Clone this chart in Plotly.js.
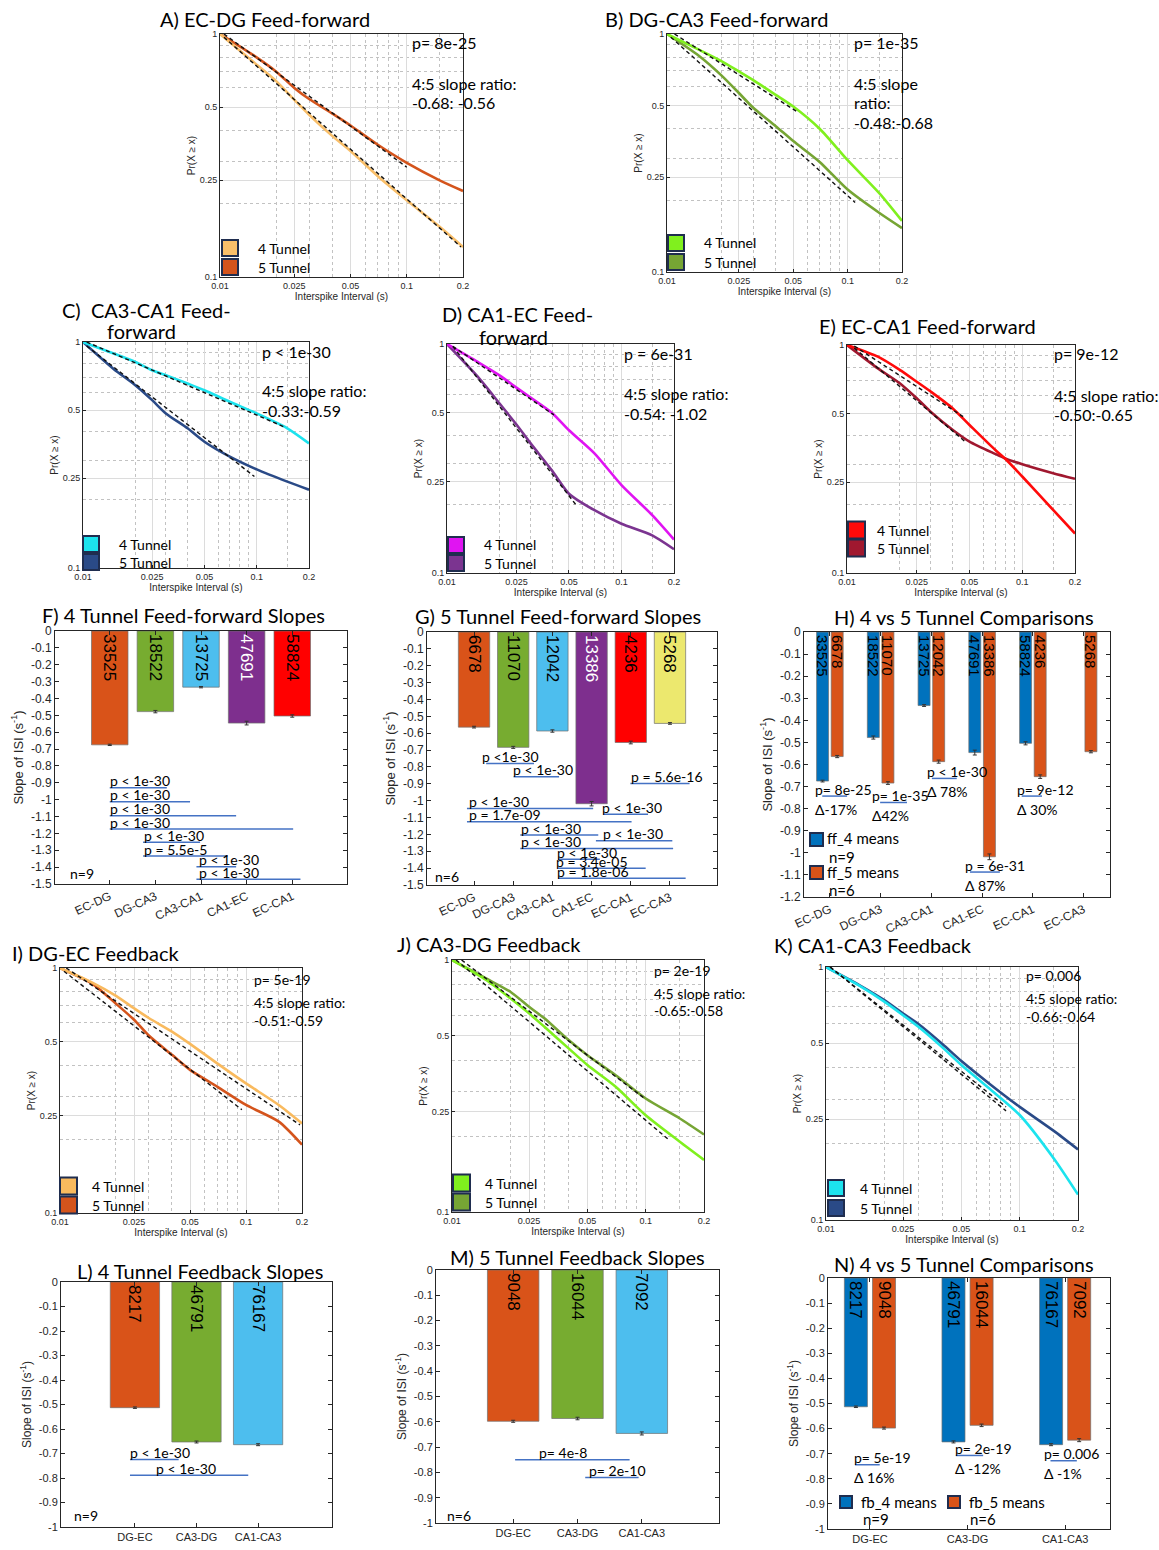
<!DOCTYPE html>
<html><head><meta charset="utf-8">
<script src="https://cdn.plot.ly/plotly-3.0.1.min.js"></script>
<style>body{margin:0;background:#fff}#chart{width:1159px;height:1550px}</style>
</head><body><div id="chart"></div>
<script>
const W = 1159, H = 1550;
const X = p => p / W, Y = p => 1 - p / H;
const TF = 'Lato, "Open Sans", sans-serif';
const AF = '"Liberation Sans", Arial, sans-serif';

// ---------------- CDF data (complementary CDF, log-log) ----------------
const isiX  = [0.01, 0.015, 0.02, 0.025, 0.03, 0.04, 0.05, 0.07, 0.1, 0.15, 0.2];
const isiXE = [0.01, 0.015, 0.02, 0.025, 0.03, 0.04, 0.05, 0.07, 0.08, 0.1, 0.15, 0.2];

const cdfA4 = [1, 0.77, 0.64, 0.536, 0.465, 0.38, 0.33, 0.26, 0.207, 0.161, 0.133];
const cdfA5 = [1, 0.82, 0.70, 0.60, 0.54, 0.47, 0.42, 0.35, 0.295, 0.25, 0.226];
const cdfB4 = [1, 0.86, 0.77, 0.696, 0.64, 0.555, 0.496, 0.40, 0.295, 0.214, 0.164];
const cdfB5 = [1, 0.81, 0.67, 0.565, 0.49, 0.41, 0.355, 0.29, 0.222, 0.177, 0.153];
const cdfC4 = [1, 0.89, 0.816, 0.75, 0.713, 0.655, 0.612, 0.544, 0.483, 0.415, 0.356];
const cdfC5 = [1, 0.76, 0.644, 0.553, 0.483, 0.415, 0.362, 0.311, 0.273, 0.241, 0.222];
const cdfD4 = [1, 0.835, 0.73, 0.645, 0.585, 0.50, 0.42, 0.333, 0.242, 0.179, 0.14];
const cdfD5 = [1, 0.72, 0.55, 0.445, 0.37, 0.28, 0.222, 0.188, 0.164, 0.146, 0.127];
const cdfE4 = [1, 0.889, 0.778, 0.69, 0.625, 0.528, 0.446, 0.347, 0.317, 0.265, 0.189, 0.149];
const cdfE5 = [1, 0.79, 0.68, 0.584, 0.51, 0.425, 0.377, 0.333, 0.318, 0.300, 0.274, 0.259];
const cdfI4 = [1, 0.87, 0.77, 0.685, 0.625, 0.55, 0.49, 0.408, 0.338, 0.276, 0.232];
const cdfI5 = [1, 0.86, 0.715, 0.615, 0.53, 0.442, 0.384, 0.328, 0.276, 0.236, 0.19];
const cdfJ4 = [1, 0.833, 0.705, 0.614, 0.543, 0.446, 0.383, 0.314, 0.242, 0.19, 0.161];
const cdfJ5 = [1, 0.845, 0.748, 0.652, 0.587, 0.481, 0.419, 0.349, 0.282, 0.235, 0.203];
const cdfK4 = [1, 0.84, 0.73, 0.645, 0.58, 0.48, 0.41, 0.33, 0.26, 0.175, 0.126];
const cdfK5 = [1, 0.845, 0.74, 0.655, 0.595, 0.495, 0.425, 0.345, 0.28, 0.225, 0.19];

// power-law fits (dashed), endpoints
const fitA4x = [0.0105, 0.195], fitA4y = [0.97, 0.133];
const fitA5x = [0.0105, 0.1],   fitA5y = [1.0, 0.283];
const fitB4x = [0.011, 0.052],  fitB4y = [1.0, 0.474];
const fitB5x = [0.0105, 0.11],  fitB5y = [0.97, 0.196];
const fitC4x = [0.0105, 0.145], fitC4y = [1.0, 0.42];
const fitC5x = [0.0105, 0.097], fitC5y = [0.96, 0.254];
const fitD4x = [0.0108, 0.041], fitD4y = [0.977, 0.49];
const fitD5x = [0.0108, 0.055], fitD5y = [0.977, 0.198];
const fitE4x = [0.011, 0.046],  fitE4y = [0.99, 0.485];
const fitE5x = [0.011, 0.047],  fitE5y = [0.97, 0.378];
const fitI4x = [0.0108, 0.195], fitI4y = [1.0, 0.229];
const fitI5x = [0.0105, 0.095], fitI5y = [0.97, 0.264];
const fitJ4x = [0.0105, 0.13],  fitJ4y = [1.0, 0.195];
const fitJ5x = [0.0112, 0.1],   fitJ5y = [1.0, 0.28];
const fitK4x = [0.0105, 0.085], fitK4y = [1.0, 0.27];
const fitK5x = [0.0105, 0.085], fitK5y = [1.0, 0.28];

const cdfXTicks = [0.01, 0.025, 0.05, 0.1, 0.2];
const cdfXTickText = ['0.01', '0.025', '0.05', '0.1', '0.2'];
const cdfXMinor = [0.02, 0.03, 0.04, 0.06, 0.07, 0.08, 0.09, 0.15];
const cdfYTicks = [0.1, 0.25, 0.5, 1];
const cdfYTickText = ['0.1', '0.25', '0.5', '1'];
const cdfYMinor = [0.2, 0.3, 0.4, 0.6, 0.7, 0.8, 0.9];

// ---------------- slope bar data ----------------
const ffCats = ['EC-DG', 'DG-CA3', 'CA3-CA1', 'CA1-EC', 'EC-CA1', 'EC-CA3'];
const ff4Slopes = [-0.675, -0.478, -0.333, -0.546, -0.504, null];
const ff4Err    = [0.004, 0.007, 0.004, 0.011, 0.007, 0];
const ff4Count  = ['33525', '18522', '13725', '47691', '58824', ''];
const ff5Slopes = [-0.564, -0.684, -0.587, -1.018, -0.655, -0.542];
const ff5Err    = [0.005, 0.006, 0.007, 0.013, 0.008, 0.005];
const ff5Count  = ['6678', '11070', '12042', '13386', '4236', '5268'];

const fbCats = ['DG-EC', 'CA3-DG', 'CA1-CA3'];
const fb4Slopes = [-0.513, -0.653, -0.664];
const fb4Err    = [0.003, 0.004, 0.004];
const fb4Count  = ['8217', '46791', '76167'];
const fb5Slopes = [-0.598, -0.587, -0.646];
const fb5Err    = [0.004, 0.005, 0.006];
const fb5Count  = ['9048', '16044', '7092'];

const ticks15 = [0, -0.1, -0.2, -0.3, -0.4, -0.5, -0.6, -0.7, -0.8, -0.9, -1, -1.1, -1.2, -1.3, -1.4, -1.5];
const ticks12 = [0, -0.1, -0.2, -0.3, -0.4, -0.5, -0.6, -0.7, -0.8, -0.9, -1, -1.1, -1.2];
const ticks10 = [0, -0.1, -0.2, -0.3, -0.4, -0.5, -0.6, -0.7, -0.8, -0.9, -1];

// significance annotations: [label, textX, x0, x1, y]
const sigF = [
  ['p < 1e-30', 0.96, 1.0, 2.25, -0.93],
  ['p < 1e-30', 0.96, 1.0, 2.76, -1.012],
  ['p < 1e-30', 0.96, 1.0, 3.77, -1.095],
  ['p < 1e-30', 0.96, 1.0, 5.02, -1.174],
  ['p < 1e-30', 1.70, 1.73, 2.98, -1.253],
  ['p = 5.5e-5', 1.70, 1.73, 3.59, -1.334],
  ['p < 1e-30', 2.91, 2.9, 3.77, -1.397],
  ['p < 1e-30', 2.91, 2.9, 5.18, -1.472]
];
const sigG = [
  ['p <1e-30', 1.16, 1.31, 2.53, -0.78],
  ['p < 1e-30', 1.94, 2.01, 3.17, -0.858],
  ['p = 5.6e-16', 4.96, 4.99, 6.5, -0.898],
  ['p < 1e-30', 0.82, 0.82, 4.04, -1.046],
  ['p < 1e-30', 4.21, 4.31, 5.44, -1.08],
  ['p = 1.7e-09', 0.82, 0.82, 5.02, -1.125],
  ['p < 1e-30', 2.14, 2.18, 4.17, -1.204],
  ['p < 1e-30', 4.25, 4.11, 6.06, -1.237],
  ['p < 1e-30', 2.14, 2.18, 6.08, -1.283],
  ['p < 1e-30', 3.07, 3.15, 4.21, -1.348],
  ['p = 3.4e-05', 3.03, 3.15, 5.38, -1.401],
  ['p = 1.8e-06', 3.07, 3.15, 6.4, -1.46]
];
const sigL = [
  ['p < 1e-30', 0.88, 0.92, 1.71, -0.725],
  ['p < 1e-30', 1.31, 0.92, 2.84, -0.789]
];
const sigM = [
  ['p= 4e-8', 1.37, 1.03, 2.81, -0.75],
  ['p= 2e-10', 2.15, 2.12, 2.95, -0.82]
];
// 4 vs 5 comparisons: [label, textX, x0, x1, y, delta]
const cmpH = [
  ['p= 8e-25', 0.67, 0.85, 1.34, -0.743, 'Δ-17%'],
  ['p= 1e-35', 1.79, 1.99, 2.52, -0.772, 'Δ42%'],
  ['p < 1e-30', 2.87, 3.01, 3.50, -0.663, 'Δ 78%'],
  ['p = 6e-31', 3.62, 3.76, 4.35, -1.087, 'Δ 87%'],
  ['p= 9e-12', 4.65, 4.78, 5.18, -0.743, 'Δ 30%']
];
const cmpN = [
  ['p= 5e-19', 0.815, 0.846, 1.10, -0.744, 'Δ 16%'],
  ['p= 2e-19', 1.85, 1.88, 2.16, -0.707, 'Δ -12%'],
  ['p= 0.006', 2.76, 2.85, 3.12, -0.728, 'Δ -1%']
];

// ---------------- styling ----------------
const ffColors = ['#D95319', '#77AC30', '#4DBEEE', '#7E2F8E', '#FF0000', '#ECE86E'];
const ffTextColors = ['#000', '#000', '#000', '#fff', '#000', '#000'];
const fbColors = ['#D95319', '#77AC30', '#4DBEEE'];
const blue4 = '#0072BD', orange5 = '#D95319';
const sigColor = '#4472C4';
const legBorder = '#1F2D4F';

const layout = {
  width: W, height: H, margin: {l: 0, r: 0, t: 0, b: 0},
  paper_bgcolor: '#fff', plot_bgcolor: '#fff', showlegend: false,
  barmode: 'overlay', annotations: [], shapes: [], font: {family: AF}
};
const traces = [];
const ann = layout.annotations, shapes = layout.shapes;

function txt(text, x, y, size, opts) {
  ann.push(Object.assign({text: text, x: X(x), y: Y(y), xref: 'paper', yref: 'paper', showarrow: false,
    xanchor: 'left', yanchor: 'middle', font: {family: TF, size: size, color: '#000'}}, opts || {}));
}
function sfx(n) { return n === 1 ? '' : String(n); }

function cdfPanel(n, box, xs, y4, y5, fits, c4, c5, legend) {
  const s = sfx(n);
  layout['xaxis' + s] = {
    domain: [X(box[0]), X(box[1])], anchor: 'y' + s, type: 'log',
    range: [Math.log10(0.01), Math.log10(0.2)],
    tickmode: 'array', tickvals: cdfXTicks, ticktext: cdfXTickText,
    ticks: 'inside', ticklen: 3, tickcolor: '#262626', showline: true, linecolor: '#262626',
    linewidth: 1, mirror: true, showgrid: true, gridcolor: '#dcdcdc', zeroline: false,
    minor: {tickmode: 'array', tickvals: cdfXMinor, showgrid: true, gridcolor: '#c2c2c2', griddash: 'dot', ticks: ''},
    tickfont: {family: AF, size: 9, color: '#262626'},
    title: {text: 'Interspike Interval (s)', font: {family: AF, size: 10, color: '#262626'}, standoff: 2},
    automargin: false
  };
  layout['yaxis' + s] = {
    domain: [Y(box[3]), Y(box[2])], anchor: 'x' + s, type: 'log', range: [-1, 0],
    tickmode: 'array', tickvals: cdfYTicks, ticktext: cdfYTickText,
    ticks: 'inside', ticklen: 3, tickcolor: '#262626', showline: true, linecolor: '#262626',
    linewidth: 1, mirror: true, showgrid: true, gridcolor: '#dcdcdc', zeroline: false,
    minor: {tickmode: 'array', tickvals: cdfYMinor, showgrid: true, gridcolor: '#c2c2c2', griddash: 'dot', ticks: ''},
    tickfont: {family: AF, size: 9, color: '#262626'},
    title: {text: 'Pr(X ≥ x)', font: {family: AF, size: 10, color: '#262626'}, standoff: 2},
    automargin: false
  };
  const common = {type: 'scatter', mode: 'lines', xaxis: 'x' + s, yaxis: 'y' + s, hoverinfo: 'skip'};
  traces.push(Object.assign({x: xs, y: y5, line: {color: c5, width: 2.6, shape: 'spline', smoothing: 0.7}}, common));
  traces.push(Object.assign({x: xs, y: y4, line: {color: c4, width: 2.6, shape: 'spline', smoothing: 0.7}}, common));
  fits.forEach(f => traces.push(Object.assign({x: f[0], y: f[1], line: {color: '#111', width: 1.4, dash: '4px,3px'}}, common)));
  const L = legend;
  [[c4, '4 Tunnel', L[1]], [c5, '5 Tunnel', L[2]]].forEach(item => {
    shapes.push({type: 'rect', xref: 'paper', yref: 'paper', x0: X(L[0]), x1: X(L[0] + L[3]),
      y0: Y(item[2] + L[3] / 2), y1: Y(item[2] - L[3] / 2), fillcolor: item[0], line: {color: legBorder, width: 2}});
    txt(item[1], L[4], item[2], 14);
  });
}

function barAxes(n, box, xr, yr, yt, cats, angle, tsize) {
  const s = sfx(n);
  layout['xaxis' + s] = {
    domain: [X(box[0]), X(box[1])], anchor: 'y' + s, range: xr,
    tickmode: 'array', tickvals: cats.map((c, i) => i + 1), ticktext: cats, tickangle: angle,
    ticks: 'inside', ticklen: 4, tickcolor: '#262626', showline: true, linecolor: '#262626',
    linewidth: 1, mirror: 'ticks', showgrid: false, zeroline: false,
    tickfont: {family: AF, size: tsize, color: '#262626'}, automargin: false
  };
  layout['yaxis' + s] = {
    domain: [Y(box[3]), Y(box[2])], anchor: 'x' + s, range: yr,
    tickmode: 'array', tickvals: yt, ticktext: yt.map(v => String(v)),
    ticks: 'inside', ticklen: 4, tickcolor: '#262626', showline: true, linecolor: '#262626',
    linewidth: 1, mirror: 'ticks', showgrid: false, zeroline: false,
    tickfont: {family: AF, size: tsize, color: '#262626'},
    title: {text: 'Slope of ISI (s<sup>-1</sup>)', font: {family: AF, size: tsize + 1, color: '#262626'}, standoff: 4},
    automargin: false
  };
}
function barTrace(n, xs, ys, err, counts, colors, tcolors, tsize, width, offset) {
  const s = sfx(n);
  const t = {type: 'bar', x: xs, y: ys, xaxis: 'x' + s, yaxis: 'y' + s, hoverinfo: 'skip',
    marker: {color: colors, line: {color: '#707070', width: 0.7}},
    error_y: {type: 'data', array: err, visible: true, color: '#333', thickness: 1, width: 2},
    text: counts, textposition: 'inside', insidetextanchor: 'start', textangle: 90, constraintext: 'none',
    insidetextfont: {family: AF, size: tsize, color: tcolors}, cliponaxis: false, width: width};
  if (offset !== undefined) t.offset = offset;
  traces.push(t);
}
function sig(n, items, size) {
  const s = sfx(n);
  items.forEach(it => {
    shapes.push({type: 'line', xref: 'x' + s, yref: 'y' + s, x0: it[2], x1: it[3], y0: it[4], y1: it[4],
      line: {color: sigColor, width: 1.5}});
    ann.push({text: it[0], xref: 'x' + s, yref: 'y' + s, x: it[1], y: it[4], xanchor: 'left', yanchor: 'middle',
      yshift: 7, showarrow: false, font: {family: TF, size: size, color: '#000'}});
    if (it[5]) ann.push({text: it[5], xref: 'x' + s, yref: 'y' + s, x: it[1], y: it[4], xanchor: 'left',
      yanchor: 'middle', yshift: -13, showarrow: false, font: {family: TF, size: size, color: '#000'}});
  });
}
const pos = arr => arr.map((v, i) => i + 1);

// ---------------- CDF panels ----------------
cdfPanel(1, [220, 463, 34, 277], isiX, cdfA4, cdfA5, [[fitA4x, fitA4y], [fitA5x, fitA5y]], '#F9BF6A', '#D4541C', [222, 248, 267, 16, 256]);
cdfPanel(2, [667, 902, 34, 272], isiX, cdfB4, cdfB5, [[fitB4x, fitB4y], [fitB5x, fitB5y]], '#80F01E', '#76A534', [668, 243, 262, 16, 702]);
cdfPanel(3, [83, 309, 342, 568], isiX, cdfC4, cdfC5, [[fitC4x, fitC4y], [fitC5x, fitC5y]], '#1CE3EE', '#2A4A87', [83, 544, 562, 16, 117]);
cdfPanel(4, [447, 674, 344, 573], isiX, cdfD4, cdfD5, [[fitD4x, fitD4y], [fitD5x, fitD5y]], '#E014F2', '#7B3490', [448, 545, 563, 16, 482]);
cdfPanel(5, [847, 1075, 345, 573], isiXE, cdfE4, cdfE5, [[fitE4x, fitE4y], [fitE5x, fitE5y]], '#FF0A0A', '#A0182F', [848, 530, 548, 17, 875]);
cdfPanel(9, [60, 302, 968, 1213], isiX, cdfI4, cdfI5, [[fitI4x, fitI4y], [fitI5x, fitI5y]], '#F9BA5E', '#D4541C', [60, 1186, 1205, 17, 90]);
cdfPanel(10, [452, 704, 960, 1212], isiX, cdfJ4, cdfJ5, [[fitJ4x, fitJ4y], [fitJ5x, fitJ5y]], '#80F01E', '#76A534', [453, 1183, 1202, 17, 483]);
cdfPanel(11, [826, 1078, 967, 1220], isiX, cdfK4, cdfK5, [[fitK4x, fitK4y], [fitK5x, fitK5y]], '#1CE3EE', '#2A4A87', [828, 1188, 1208, 16, 858]);

// ---------------- bar panels ----------------
const nFF4 = 5;
barAxes(6, [55, 347, 631, 884], [-0.2, 6.2], [-1.5, 0], ticks15, ffCats.slice(0, nFF4), -25, 12);
barTrace(6, pos(ffCats.slice(0, nFF4)), ff4Slopes.slice(0, nFF4), ff4Err.slice(0, nFF4), ff4Count.slice(0, nFF4),
  ffColors.slice(0, nFF4), ffTextColors.slice(0, nFF4), 17, 0.8);
sig(6, sigF, 14);

barAxes(7, [427, 717, 632, 885], [-0.2, 7.2], [-1.5, 0], ticks15, ffCats, -25, 12);
barTrace(7, pos(ffCats), ff5Slopes, ff5Err, ff5Count, ffColors, ffTextColors, 17, 0.8);
sig(7, sigG, 14);

barAxes(8, [804, 1110, 632, 897], [0.49, 6.52], [-1.2, 0], ticks12, ffCats, -25, 12);
barTrace(8, pos(ffCats), ff4Slopes, ff4Err, ff4Count, blue4, '#000', 15, 0.236, -0.262);
barTrace(8, pos(ffCats), ff5Slopes, ff5Err, ff5Count, orange5, '#000', 15, 0.236, 0.026);
sig(8, cmpH, 14);

barAxes(12, [61, 332, 1282, 1527], [-0.2, 4.2], [-1, 0], ticks10, fbCats, 0, 11);
barTrace(12, pos(fbCats), fb4Slopes, fb4Err, fb4Count, fbColors, '#000', 17, 0.8);
sig(12, sigL, 14);

barAxes(13, [436, 719, 1270, 1523], [-0.2, 4.2], [-1, 0], ticks10, fbCats, 0, 11);
barTrace(13, pos(fbCats), fb5Slopes, fb5Err, fb5Count, fbColors, '#000', 17, 0.8);
sig(13, sigM, 14);

barAxes(14, [828, 1110, 1278, 1529], [0.57, 3.46], [-1, 0], ticks10, fbCats, 0, 11);
barTrace(14, pos(fbCats), fb4Slopes, fb4Err, fb4Count, blue4, '#000', 17, 0.236, -0.262);
barTrace(14, pos(fbCats), fb5Slopes, fb5Err, fb5Count, orange5, '#000', 17, 0.236, 0.026);
sig(14, cmpN, 14);

// ---------------- titles & panel text ----------------
const NB = '\u00a0';
txt('A) EC-DG Feed-forward', 158, 19, 20);
txt('B) DG-CA3 Feed-forward', 603, 19, 20);
txt('C)' + NB + NB + 'CA3-CA1 Feed-', 60, 310, 20);
txt('forward', 141, 331, 20, {xanchor: 'center'});
txt('D) CA1-EC Feed-', 440, 314, 20);
txt('forward', 513, 337, 20, {xanchor: 'center'});
txt('E) EC-CA1 Feed-forward', 817, 326, 20);
txt('F) 4 Tunnel Feed-forward Slopes', 40, 615, 20);
txt('G) 5 Tunnel Feed-forward Slopes', 413, 616, 20);
txt('H) 4 vs 5 Tunnel Comparisons', 832, 617, 20);
txt('I) DG-EC Feedback', 10, 953, 20);
txt('J) CA3-DG Feedback', 395, 944, 20);
txt('K) CA1-CA3 Feedback', 772, 945, 20);
txt('L) 4 Tunnel Feedback Slopes', 75, 1271, 20);
txt('M) 5 Tunnel Feedback Slopes', 448, 1257, 20);
txt('N) 4 vs 5 Tunnel Comparisons', 832, 1264, 20);

txt('p= 8e-25', 410, 42, 16); txt('4:5 slope ratio:', 410, 83, 16); txt('-0.68: -0.56', 410, 103, 16);
txt('p= 1e-35', 852, 43, 16); txt('4:5 slope', 852, 83, 16); txt('ratio:', 852, 103, 16); txt('-0.48:-0.68', 852, 123, 16);
txt('p < 1e-30', 260, 351, 16); txt('4:5 slope ratio:', 260, 391, 16); txt('-0.33:-0.59', 260, 410, 16);
txt('p = 6e-31', 622, 353, 16); txt('4:5 slope ratio:', 622, 394, 16); txt('-0.54: -1.02', 622, 413, 16);
txt('p= 9e-12', 1052, 353, 16); txt('4:5 slope ratio:', 1052, 395, 16); txt('-0.50:-0.65', 1052, 414, 16);
txt('p= 5e-19', 252, 980, 14); txt('4:5 slope ratio:', 252, 1002, 14); txt('-0.51:-0.59', 252, 1020, 14);
txt('p= 2e-19', 652, 970, 14); txt('4:5 slope ratio:', 652, 993, 14); txt('-0.65:-0.58', 652, 1010, 14);
txt('p= 0.006', 1024, 975, 14); txt('4:5 slope ratio:', 1024, 998, 14); txt('-0.66:-0.64', 1024, 1016, 14);

txt('n=9', 68, 873, 14);
txt('n=6', 433, 876, 14);
txt('n=9', 72, 1515, 14);
txt('n=6', 445, 1515, 14);

function patch(x0, y0, sz, color) {
  shapes.push({type: 'rect', xref: 'paper', yref: 'paper', x0: X(x0), x1: X(x0 + sz), y0: Y(y0 + sz), y1: Y(y0),
    fillcolor: color, line: {color: legBorder, width: 2}});
}
patch(810, 833, 13, blue4); txt('ff_4 means', 825, 838, 15); txt('n=9', 827, 857, 15);
patch(810, 866, 13, orange5); txt('ff_5 means', 825, 872, 15); txt('n=6', 827, 890, 15);
patch(840, 1496, 12, blue4); txt('fb_4 means', 859, 1502, 15); txt('n=9', 861, 1519, 15);
patch(948, 1496, 12, orange5); txt('fb_5 means', 967, 1502, 15); txt('n=6', 968, 1519, 15);

Plotly.newPlot('chart', traces, layout, {staticPlot: true, displayModeBar: false});
</script></body></html>
